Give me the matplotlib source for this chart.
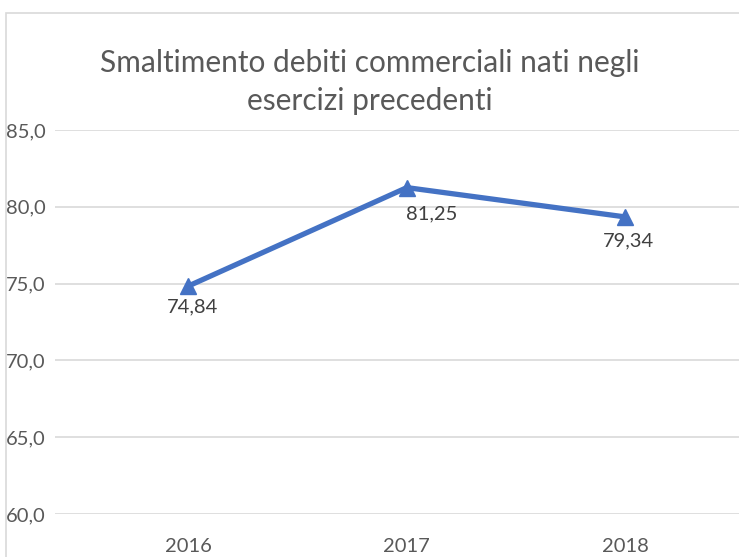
import matplotlib.pyplot as plt
from matplotlib.patches import Rectangle

# Chart data
years = ['2016', '2017', '2018']
values = [74.84, 81.25, 79.34]
value_labels = ['74,84', '81,25', '79,34']
y_ticks = [60, 65, 70, 75, 80, 85]

plt.rcParams['font.family'] = ['Lato', 'DejaVu Sans']

fig = plt.figure(figsize=(7.39, 5.57), dpi=100)

# light outer chart border (partly cut off at right/bottom like the source)
fig.patches.append(Rectangle((6 / 739, -0.1), 1.2, 1 - 13 / 557 + 0.1,
                             transform=fig.transFigure, fill=False,
                             edgecolor='#d9d9d9', linewidth=1.2))

ax = fig.add_axes([55 / 739, 1 - 514 / 557, 1 - 55 / 739, (514 - 130) / 557])

x = list(range(len(years)))
ax.plot(x, values, color='#4472c4', linewidth=3.8, marker='^',
        markersize=11, zorder=3, solid_capstyle='round')

# data labels below the points
label_dx = [3, 18, 2]
label_dy = [-15, -19, -17]
for xi, v, lab, dx, dy in zip(x, values, value_labels, label_dx, label_dy):
    ax.annotate(lab, (xi, v), xytext=(dx, dy), textcoords='offset points',
                ha='center', va='center', fontsize=14.5, color='#404040')

ax.set_ylim(60, 85)
ax.set_xlim(-0.61, 2.52)
ax.set_yticks(y_ticks)
ax.set_yticklabels([f'{t},0' for t in y_ticks])
ax.set_xticks(x)
ax.set_xticklabels(years)
ax.yaxis.grid(True, color='#d9d9d9', linewidth=1.2)
ax.set_axisbelow(True)
for s in ax.spines.values():
    s.set_visible(False)
ax.tick_params(axis='both', length=0, labelsize=14.5, labelcolor='#595959')
ax.tick_params(axis='y', pad=7)
ax.tick_params(axis='x', pad=17)

fig.text(370 / 739, 1 - 82 / 557,
         'Smaltimento debiti commerciali nati negli\nesercizi precedenti',
         ha='center', va='center', fontsize=21.5, color='#595959', linespacing=1.4)

fig.savefig('out.png', dpi=100)
